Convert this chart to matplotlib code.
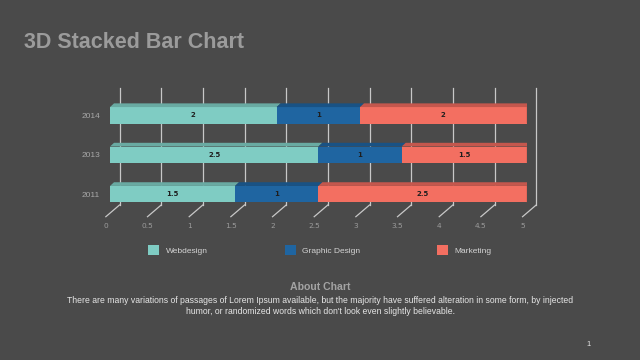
import numpy as np
import matplotlib.pyplot as plt
from matplotlib.patches import Polygon, Patch

years = ["2011", "2013", "2014"]
webdesign = [1.5, 2.5, 2]
graphic = [1, 1, 1]
marketing = [2.5, 1.5, 2]
series_names = ["Webdesign", "Graphic Design", "Marketing"]
ticks = np.arange(0, 5.01, 0.5)
tick_labels = ["0", "0.5", "1", "1.5", "2", "2.5", "3", "3.5", "4", "4.5", "5"]

front = ["#7fccc3", "#1f65a1", "#f36f61"]
top = ["#69aaa2", "#195284", "#c4574d"]
bg = "#4a4a4a"

plt.rcParams['font.family'] = ['Liberation Sans', 'DejaVu Sans']

fig = plt.figure(figsize=(6.4, 3.6), dpi=100, facecolor=bg)
ax = fig.add_axes([110 / 640, 1 - 213.9 / 360, 416.7 / 640, 118.3 / 360])
ax.set_facecolor("none")
ax.set_xlim(0, 5)
ax.set_ylim(-0.5, 2.5)
for s in ax.spines.values():
    s.set_visible(False)

# 3d offsets in data units
dx, dy = 0.048, 0.094
gx, gb, gt = 0.114, -0.274, 2.69
fx, fy = -0.05, -0.571
h = 0.418

# back wall gridlines + floor diagonals
for v in ticks:
    ax.plot([v + gx, v + gx], [gb, gt], color="#c8c8c8", lw=0.9, zorder=1, clip_on=False)
    ax.plot([v + gx, v + fx], [gb, fy], color="#c8c8c8", lw=0.9, zorder=1, clip_on=False)
for v, lab in zip(ticks, tick_labels):
    ax.text(v + fx, -0.81, lab, ha="center", va="center", fontsize=5.3,
            color="#9c9c9c", family="DejaVu Sans")

y = np.arange(len(years))
data = [webdesign, graphic, marketing]
left = np.zeros(len(years))
for k, vals in enumerate(data):
    vals = np.array(vals, dtype=float)
    ax.barh(y, vals, left=left, height=h, color=front[k], zorder=3)
    for i in range(len(years)):
        l, w, yc = left[i], vals[i], y[i]
        ax.add_patch(Polygon([(l, yc + h / 2), (l + w, yc + h / 2),
                              (l + w + dx, yc + h / 2 + dy), (l + dx, yc + h / 2 + dy)],
                             closed=True, color=top[k], zorder=3, lw=0))
        if k == len(data) - 1:
            ax.add_patch(Polygon([(l + w, yc - h / 2), (l + w, yc + h / 2),
                                  (l + w + dx, yc + h / 2 + dy), (l + w + dx, yc - h / 2 + dy)],
                                 closed=True, color=top[k], zorder=3, lw=0))
        ax.text(l + w / 2, yc, f"{w:g}", ha="center", va="center", fontsize=5,
                fontweight="bold", color="#1e1e1e", zorder=4, family="DejaVu Sans")
    left = left + vals

ax.set_xticks([])
ax.set_yticks(y, years, fontsize=6, color="#a8a8a8")
ax.tick_params(axis="y", length=0, pad=7)

handles = [Patch(facecolor=c, edgecolor="none") for c in front]
fig.legend(handles, series_names, ncol=3, loc="center left",
           bbox_to_anchor=(148.3 / 640, 1 - 250 / 360), frameon=False,
           fontsize=6, labelcolor="#d4d4d4", handlelength=1.32, handleheight=1.38,
           handletextpad=0.8, columnspacing=9.2, borderpad=0, borderaxespad=0)

fig.text(24 / 640, 1 - 43 / 360, "3D Stacked Bar Chart", fontsize=15.5,
         fontweight="bold", color="#9b9b9b", va="center", ha="left")
fig.text(0.5, 1 - 287 / 360, "About Chart", fontsize=7.6, fontweight="bold",
         color="#a3a3a3", ha="center", va="center")
fig.text(0.5, 1 - 300.7 / 360,
         "There are many variations of passages of Lorem Ipsum available, but the majority have suffered alteration in some form, by injected",
         fontsize=6.2, color="#e6e6e6", ha="center", va="center")
fig.text(0.5, 1 - 311.4 / 360,
         "humor, or randomized words which don't look even slightly believable.",
         fontsize=6.2, color="#e6e6e6", ha="center", va="center")
fig.text(589 / 640, 1 - 344 / 360, "1", fontsize=5.5, color="#e6e6e6",
         ha="center", va="center")

fig.savefig("out.png", dpi=100, facecolor=bg)
